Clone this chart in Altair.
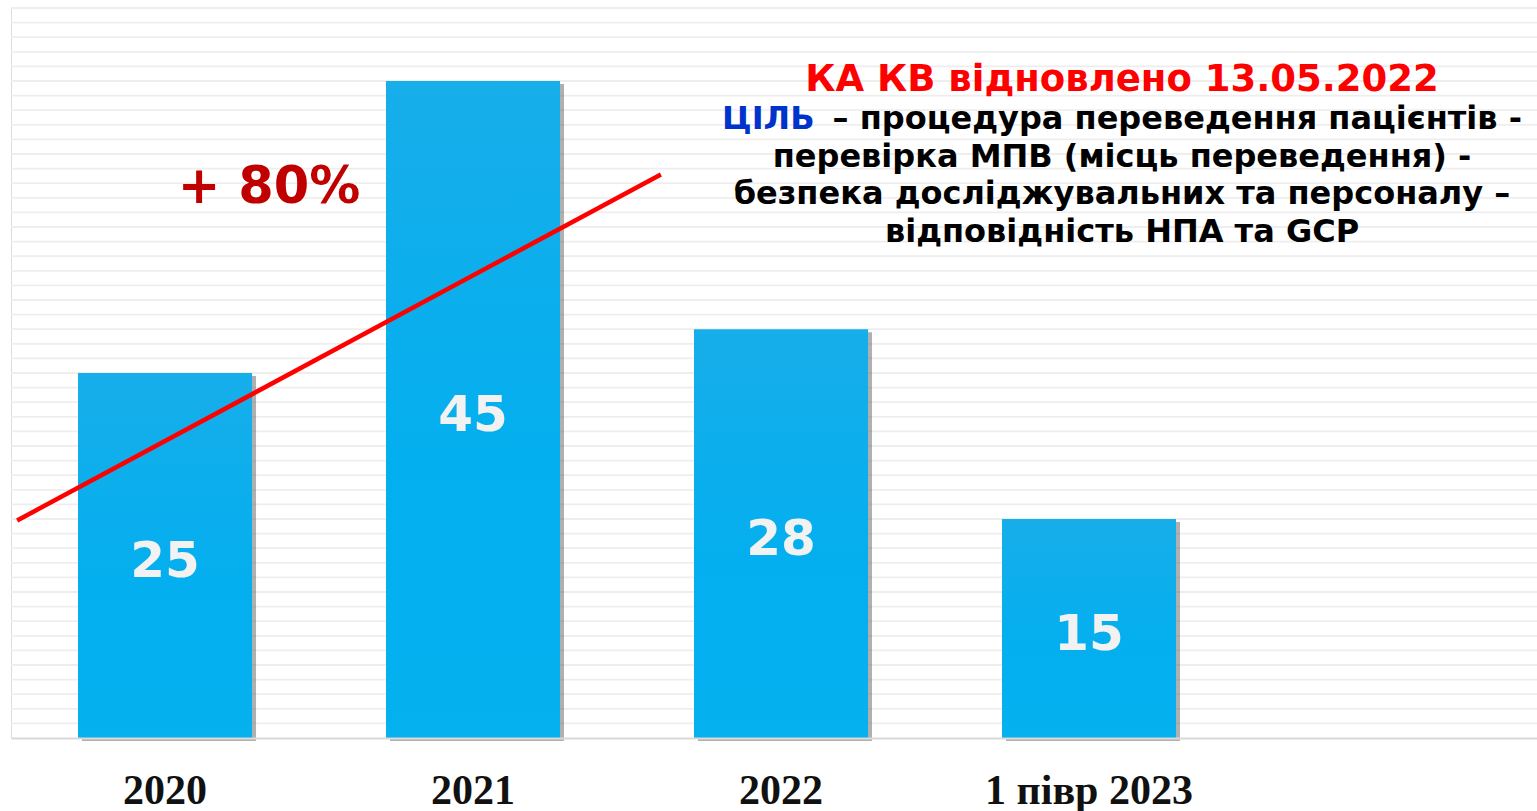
import altair as alt
import pandas as pd

# ---- data ----
categories = ["2020", "2021", "2022", "1 півр 2023"]
values = [25, 45, 28, 15]

# horizontal guide lines (value units)
grid_vals = list(range(1, 51))

# red trend annotation: endpoints in (category index, value) units
trend_pos = [-0.48, 1.61]
trend_val = [14.9, 38.6]

title_red = "КА КВ відновлено 13.05.2022"
goal_word = "ЦІЛЬ"
goal_lines = [
    "– процедура переведення пацієнтів -",
    "перевірка МПВ (місць переведення) -",
    "безпека досліджувальних та персоналу –",
    "відповідність НПА та GCP",
]
growth_label = "+ 80%"

bars_df = pd.DataFrame({"cat": categories, "value": values})
trend_df = pd.DataFrame({"pos": trend_pos, "value": trend_val})
grid_df = pd.DataFrame({"g": grid_vals})

W, H = 1526, 730
FONT = "DejaVu Sans"

band_scale = alt.Scale(type="band", paddingInner=0.435, paddingOuter=0.6948, align=0.15655)
xaxis = alt.Axis(
    title=None,
    orient="bottom",
    labelAngle=0,
    labelFont="Liberation Serif",
    labelFontWeight="bold",
    labelFontSize=42,
    labelColor="#111111",
    labelBaseline="alphabetic",
    labelPadding=65,
    labelLimit=500,
    ticks=False,
    tickSize=0,
    domain=True,
    domainColor="#D9D9D9",
    domainWidth=2,
    grid=False,
    zindex=1,
)
xenc = alt.X("cat:N", sort=categories, scale=band_scale, axis=xaxis)
yscale = alt.Scale(domain=[0, 50], nice=False)

grid = alt.Chart(grid_df).mark_rule(color="#EEEEEE", strokeWidth=1.8).encode(
    y=alt.Y("g:Q", scale=yscale, axis=None)
)

base = alt.Chart(bars_df)

shadow = base.mark_bar(color="#505050", opacity=0.45, xOffset=4, yOffset=3).encode(
    x=xenc,
    y=alt.Y("value:Q", scale=yscale, axis=None),
)

grad = alt.Gradient(
    gradient="linear",
    stops=[
        alt.GradientStop(color="#17AEEA", offset=0),
        alt.GradientStop(color="#03AFEF", offset=0.6),
        alt.GradientStop(color="#06B1F0", offset=1),
    ],
    x1=0, x2=0, y1=0, y2=1,
)
bars = base.mark_bar(color=grad).encode(
    x=xenc,
    y=alt.Y("value:Q", scale=yscale, axis=None),
)

labels = base.transform_calculate(mid="datum.value / 2").mark_text(
    font=FONT, fontWeight="bold", fontSize=50, color="#F2F2F2",
    baseline="alphabetic", dy=21,
).encode(
    x=xenc,
    y=alt.Y("mid:Q", scale=yscale, axis=None),
    text="value:Q",
)

bar_group = alt.layer(shadow, bars, labels)

trend = alt.Chart(trend_df).mark_line(color="#FF0000", strokeWidth=4.5, clip=False).encode(
    x=alt.X("pos:Q", scale=alt.Scale(domain=[-0.5, 4.4545], nice=False, zero=False), axis=None),
    y=alt.Y("value:Q", scale=yscale, axis=None),
)

one = alt.Data(values=[{}])

def txt(s, x, y, color, size, align="center"):
    return alt.Chart(one).mark_text(
        text=s, font=FONT, fontWeight="bold", fontSize=size, color=color,
        align=align, baseline="alphabetic",
    ).encode(x=alt.value(x), y=alt.value(y))

OX, OY = 11, 8
cx = 1122 - OX
texts = [
    txt(growth_label, 269 - OX, 203 - OY, "#C00000", 51),
    txt(title_red, cx, 91 - OY, "#FF0000", 37),
    txt(goal_word, 722 - OX, 129 - OY, "#0033CC", 32, "left"),
    txt(goal_lines[0], 1522 - OX, 129 - OY, "#000000", 32, "right"),
    txt(goal_lines[1], cx, 167 - OY, "#000000", 32),
    txt(goal_lines[2], cx, 204 - OY, "#000000", 32),
    txt(goal_lines[3], cx, 242 - OY, "#000000", 32),
]

chart = alt.layer(grid, bar_group, trend, *texts).resolve_scale(
    x="independent"
).properties(
    width=W,
    height=H,
    autosize=alt.AutoSizeParams(type="none"),
    padding={"left": OX, "top": OY, "right": 0, "bottom": 811 - OY - H},
).configure_view(stroke="transparent", strokeWidth=0).configure(background="white")

chart.save("out.html", embed_options={"renderer": "svg", "actions": False})
